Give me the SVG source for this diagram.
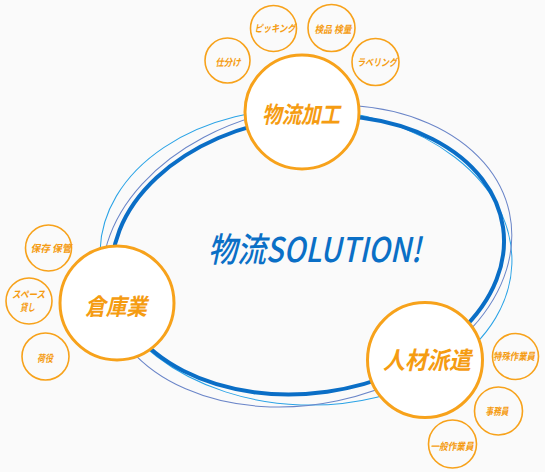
<svg xmlns="http://www.w3.org/2000/svg" width="545" height="472" viewBox="0 0 545 472">
<style>
.big{fill:#ffffff;stroke:#f7a21b;stroke-width:3}
.sm{fill:none;stroke:#f7a21b;stroke-width:1.6}
.bt{font-family:"Noto Sans CJK JP","Noto Sans",sans-serif;font-style:italic;font-weight:bold;fill:#f59c12;text-anchor:middle}
.st{font-family:"Noto Sans CJK JP","Noto Sans",sans-serif;font-style:italic;font-weight:bold;fill:#f59c12;text-anchor:middle;font-size:10px}
.main{font-family:"Noto Sans CJK JP","Noto Sans",sans-serif;font-style:italic;font-weight:500;fill:#0a6fc6;font-size:34px}
</style>
<rect width="545" height="472" fill="#fafafa"/>
<g id="ring">
<ellipse cx="306" cy="257" rx="206" ry="148" fill="none" stroke="#2aa3e6" stroke-width="1" transform="rotate(2 306 257)"/>
<ellipse cx="307" cy="256" rx="207" ry="148" fill="none" stroke="#6a85c8" stroke-width="1" transform="rotate(-12 307 256)"/>
<ellipse cx="308" cy="255" rx="197" ry="138" fill="none" stroke="#0a6ec6" stroke-width="4" transform="rotate(-8 308 255)"/>
</g>
<g id="title">
<text class="main" x="208" y="262" textLength="213" lengthAdjust="spacingAndGlyphs">物流SOLUTION!</text>
</g>
<g id="butsuryu-kakou">
<circle class="big" cx="302" cy="112" r="57"/>
<text class="bt" x="301" y="123" font-size="23" textLength="78" lengthAdjust="spacingAndGlyphs">物流加工</text>
</g>
<g id="soko">
<circle class="big" cx="117" cy="303" r="57"/>
<text class="bt" x="116" y="315" font-size="23" textLength="62" lengthAdjust="spacingAndGlyphs">倉庫業</text>
</g>
<g id="jinzai">
<circle class="big" cx="425" cy="360" r="57.5"/>
<text class="bt" x="427" y="369" font-size="24" textLength="88" lengthAdjust="spacingAndGlyphs">人材派遣</text>
</g>
<g id="shiwake">
<circle class="sm" cx="227.5" cy="60.5" r="22.5"/>
<text class="st" x="228" y="66" textLength="25" lengthAdjust="spacingAndGlyphs">仕分け</text>
</g>
<g id="picking">
<circle class="sm" cx="273.5" cy="28.5" r="23"/>
<text class="st" x="275" y="32" textLength="41" lengthAdjust="spacingAndGlyphs">ピッキング</text>
</g>
<g id="kenpin">
<circle class="sm" cx="331.5" cy="28" r="23.5"/>
<text class="st" x="333" y="33" textLength="37" lengthAdjust="spacingAndGlyphs">検品 検量</text>
</g>
<g id="labeling">
<circle class="sm" cx="375.5" cy="62" r="23.5"/>
<text class="st" x="377" y="66" textLength="40" lengthAdjust="spacingAndGlyphs">ラベリング</text>
</g>
<g id="hozon">
<circle class="sm" cx="48.5" cy="248" r="23"/>
<text class="st" x="51" y="252" textLength="41" lengthAdjust="spacingAndGlyphs">保存 保管</text>
</g>
<g id="space">
<circle class="sm" cx="29" cy="301" r="23"/>
<text class="st" x="28.5" y="297.5" font-size="8.5" textLength="33" lengthAdjust="spacingAndGlyphs">スペース</text>
<text class="st" x="27.5" y="311" font-size="8.5" textLength="15" lengthAdjust="spacingAndGlyphs">貸し</text>
</g>
<g id="niyaku">
<circle class="sm" cx="45.5" cy="356.5" r="23.5"/>
<text class="st" x="45" y="362" textLength="16" lengthAdjust="spacingAndGlyphs">荷役</text>
</g>
<g id="tokushu">
<circle class="sm" cx="515.5" cy="356.5" r="23"/>
<text class="st" x="514" y="360" textLength="42" lengthAdjust="spacingAndGlyphs">特殊作業員</text>
</g>
<g id="jimuin">
<circle class="sm" cx="498.5" cy="411" r="24"/>
<text class="st" x="497" y="415" textLength="23" lengthAdjust="spacingAndGlyphs">事務員</text>
</g>
<g id="ippan">
<circle class="sm" cx="452.5" cy="444" r="24"/>
<text class="st" x="452" y="450" textLength="43" lengthAdjust="spacingAndGlyphs">一般作業員</text>
</g>
</svg>
